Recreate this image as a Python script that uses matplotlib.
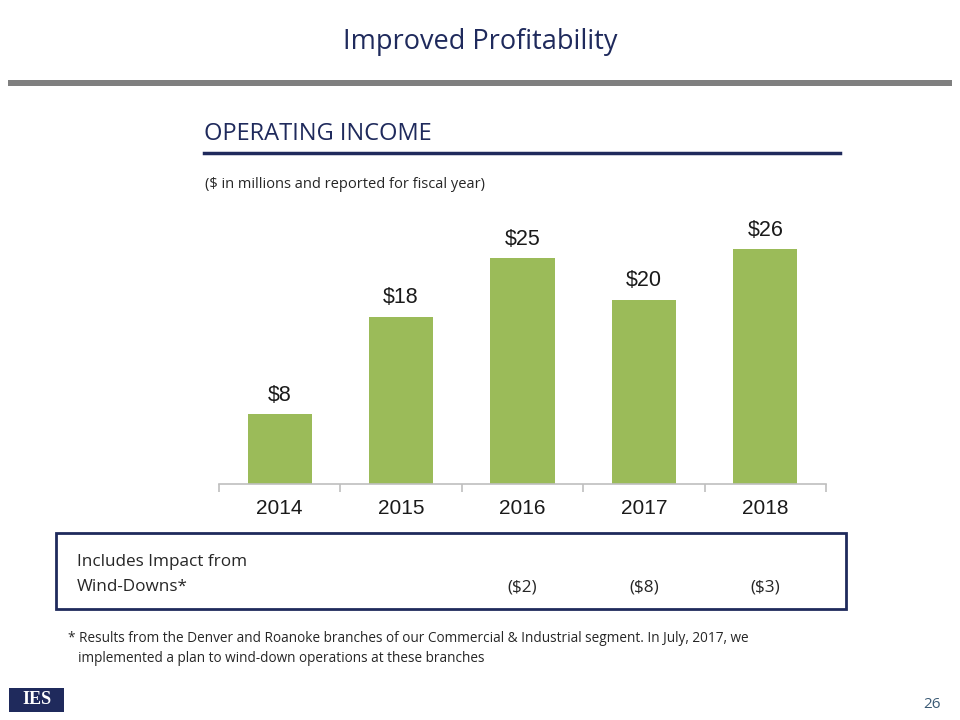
import matplotlib
matplotlib.use("Agg")
import matplotlib.pyplot as plt
from matplotlib.patches import Rectangle
from matplotlib.lines import Line2D
import matplotlib.transforms as mtransforms

years = ["2014", "2015", "2016", "2017", "2018"]
operating_income = [7.7, 18.5, 25.0, 20.4, 26.0]
value_labels = ["$8", "$18", "$25", "$20", "$26"]
wind_down_years = ["2016", "2017", "2018"]
wind_down_labels = ["($2)", "($8)", "($3)"]

W, H = 960, 720
NAVY = "#1f2a5c"
GREEN = "#9bbb59"

fig = plt.figure(figsize=(9.6, 7.2), dpi=100)
fig.patch.set_facecolor("white")

def fx(x):
    return x / W

def fy(y):
    return 1 - y / H

SANS = ["Open Sans", "DejaVu Sans"]

# Title
fig.text(fx(480), fy(42), "Improved Profitability", ha="center", va="center",
         fontsize=19.5, color=NAVY, family=SANS)
# gray rule
fig.add_artist(Rectangle((fx(8), fy(86)), fx(944), 6 / H, transform=fig.transFigure,
                         facecolor="#7f7f7f", edgecolor="none"))
# Section header
fig.text(fx(204), fy(134), "OPERATING INCOME", ha="left", va="center",
         fontsize=17, color=NAVY, family=SANS)
fig.add_artist(Line2D([fx(204), fx(840)], [fy(153), fy(153)], transform=fig.transFigure,
                      color=NAVY, lw=2.5))
fig.text(fx(205), fy(184), "($ in millions and reported for fiscal year)", ha="left",
         va="center", fontsize=10.5, color="#262626", family=SANS)

# Chart axes
ax_left, ax_right, ax_top, ax_bottom = 219, 826, 220, 484
ax = fig.add_axes([fx(ax_left), fy(ax_bottom), fx(ax_right - ax_left), (ax_bottom - ax_top) / H])
x = list(range(len(years)))
bars = ax.bar(x, operating_income, width=0.53, color=GREEN, zorder=2)
ax.set_xlim(-0.5, len(years) - 0.5)
ax.set_ylim(0, 264 / 9.04)
for spine in ["top", "right", "left"]:
    ax.spines[spine].set_visible(False)
ax.spines["bottom"].set_color("#bfbfbf")
ax.spines["bottom"].set_linewidth(1.2)
ax.set_yticks([])
ax.set_xticks([i + 0.5 for i in range(-1, len(years))], minor=False)
ax.set_xticklabels([])
ax.tick_params(axis="x", length=6, color="#bfbfbf", width=1.2, direction="out")
for i, yr in enumerate(years):
    ax.annotate(yr, (i, 0), xytext=(0, -18), textcoords="offset points", ha="center",
                va="center", fontsize=15, color="#1a1a1a", family=["Liberation Sans"])
for b, lab in zip(bars, value_labels):
    ax.annotate(lab, (b.get_x() + b.get_width() / 2, b.get_height()), xytext=(0, 6),
                textcoords="offset points", ha="center", va="bottom", fontsize=15.5,
                color="#1a1a1a", family=["Liberation Sans"])

# Box
fig.add_artist(Rectangle((fx(56), fy(609)), fx(790), (609 - 533) / H, transform=fig.transFigure,
                         facecolor="none", edgecolor=NAVY, lw=2))
fig.text(fx(77), fy(562), "Includes Impact from", ha="left", va="center", fontsize=12.3,
         color="#262626", family=SANS)
fig.text(fx(77), fy(587), "Wind-Downs*", ha="left", va="center", fontsize=12.3,
         color="#262626", family=SANS)
trans = mtransforms.blended_transform_factory(ax.transData, fig.transFigure)
for yr, lab in zip(wind_down_years, wind_down_labels):
    fig.text(years.index(yr), fy(587), lab, ha="center", va="center", fontsize=12.3,
             color="#262626", family=SANS, transform=trans)

# Footnote
fig.text(fx(68), fy(638), "* Results from the Denver and Roanoke branches of our Commercial & Industrial segment. In July, 2017, we",
         ha="left", va="center", fontsize=9.8, color="#262626", family=SANS)
fig.text(fx(78), fy(659), "implemented a plan to wind-down operations at these branches",
         ha="left", va="center", fontsize=9.8, color="#262626", family=SANS)

# Logo
fig.add_artist(Rectangle((fx(9), fy(712)), fx(55), 24 / H, transform=fig.transFigure,
                         facecolor=NAVY, edgecolor="none"))
fig.text(fx(36.5), fy(700), "IES", ha="center", va="center", fontsize=13, color="white",
         family=["Liberation Serif"], fontweight="bold")

# Page number
fig.text(fx(932), fy(704), "26", ha="center", va="center", fontsize=11, color="#3b5a75",
         family=SANS)

fig.savefig("out.png", dpi=100)
